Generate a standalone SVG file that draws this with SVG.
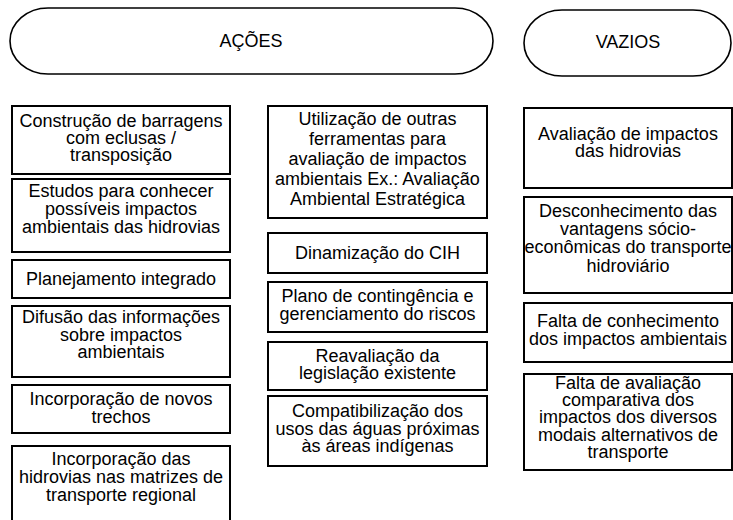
<svg xmlns="http://www.w3.org/2000/svg" width="733" height="520" viewBox="0 0 733 520">
<style>
.box{fill:#fff;stroke:#000;stroke-width:2}
.pill{fill:#fff;stroke:#000;stroke-width:1.6}
text{font-family:"Liberation Sans",Arial,sans-serif;font-size:18px;fill:#000;text-anchor:middle}
</style>
<rect width="733" height="520" fill="#fff"/>
<g id="acoes"><rect class="pill" x="10" y="8" width="483" height="66" rx="38" ry="33"/><text x="251" y="47">AÇÕES</text></g>
<g id="vazios"><rect class="pill" x="524" y="10" width="207" height="66" rx="38" ry="33"/><text x="628" y="48">VAZIOS</text></g>

<g id="l1"><rect class="box" x="12" y="106" width="218" height="68"/><text x="121" y="127">Construção de barragens</text><text x="121" y="144">com eclusas /</text><text x="121" y="161">transposição</text></g>
<g id="l2"><rect class="box" x="12" y="179" width="218" height="73"/><text x="121" y="197">Estudos para conhecer</text><text x="121" y="215">possíveis impactos</text><text x="121" y="233">ambientais das hidrovias</text></g>
<g id="l3"><rect class="box" x="12" y="260" width="218" height="38"/><text x="121" y="285">Planejamento integrado</text></g>
<g id="l4"><rect class="box" x="12" y="306" width="218" height="71"/><text x="121" y="323">Difusão das informações</text><text x="121" y="341">sobre impactos</text><text x="121" y="358">ambientais</text></g>
<g id="l5"><rect class="box" x="12" y="385" width="218" height="48"/><text x="121" y="405">Incorporação de novos</text><text x="121" y="423">trechos</text></g>
<g id="l6"><rect class="box" x="12" y="446" width="218" height="78"/><text x="121" y="465">Incorporação das</text><text x="121" y="483">hidrovias nas matrizes de</text><text x="121" y="501">transporte regional</text></g>

<g id="m1"><rect class="box" x="268" y="106" width="219" height="112"/><text x="377.5" y="125">Utilização de outras</text><text x="377.5" y="145">ferramentas para</text><text x="377.5" y="165">avaliação de impactos</text><text x="377.5" y="185">ambientais Ex.: Avaliação</text><text x="377.5" y="205">Ambiental Estratégica</text></g>
<g id="m2"><rect class="box" x="268" y="233" width="219" height="40"/><text x="377.5" y="259">Dinamização do CIH</text></g>
<g id="m3"><rect class="box" x="268" y="282" width="219" height="50"/><text x="377.5" y="302">Plano de contingência e</text><text x="377.5" y="320">gerenciamento do riscos</text></g>
<g id="m4"><rect class="box" x="268" y="342" width="219" height="48"/><text x="377.5" y="362">Reavaliação da</text><text x="377.5" y="379">legislação existente</text></g>
<g id="m5"><rect class="box" x="268" y="396" width="219" height="70"/><text x="377.5" y="417">Compatibilização dos</text><text x="377.5" y="434.5">usos das águas próximas</text><text x="377.5" y="452">às áreas indígenas</text></g>

<g id="r1"><rect class="box" x="524" y="108" width="208" height="80"/><text x="628" y="140">Avaliação de impactos</text><text x="628" y="157">das hidrovias</text></g>
<g id="r2"><rect class="box" x="524" y="197" width="208" height="96"/><text x="628" y="217">Desconhecimento das</text><text x="628" y="235">vantagens sócio-</text><text x="628" y="253">econômicas do transporte</text><text x="628" y="272">hidroviário</text></g>
<g id="r3"><rect class="box" x="524" y="303" width="208" height="59"/><text x="628" y="327">Falta de conhecimento</text><text x="628" y="345">dos impactos ambientais</text></g>
<g id="r4"><rect class="box" x="524" y="374" width="208" height="96"/><text x="628" y="389">Falta de avaliação</text><text x="628" y="406">comparativa dos</text><text x="628" y="423">impactos dos diversos</text><text x="628" y="441">modais alternativos de</text><text x="628" y="458">transporte</text></g>
<g id="connectors"/>
</svg>
